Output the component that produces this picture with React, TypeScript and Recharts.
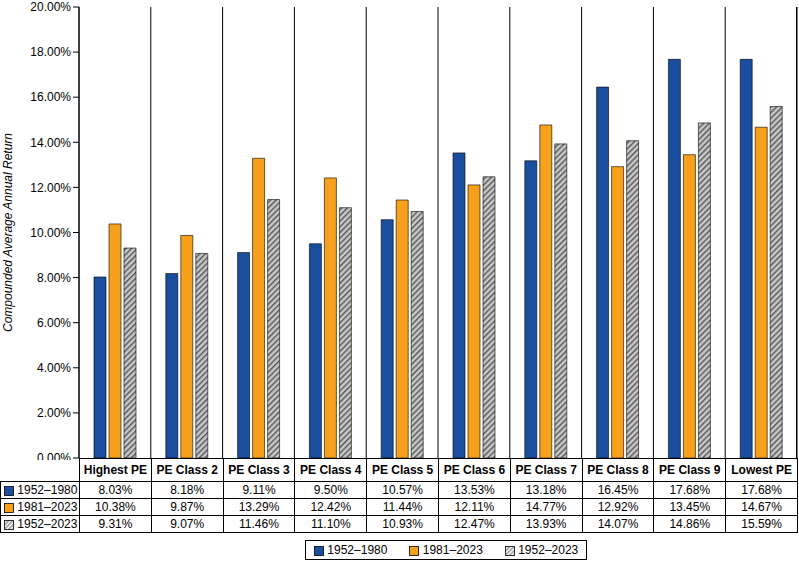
import React from "react";
import { BarChart, Bar, XAxis, YAxis, CartesianGrid } from "recharts";

const categories = ["Highest PE","PE Class 2","PE Class 3","PE Class 4","PE Class 5","PE Class 6","PE Class 7","PE Class 8","PE Class 9","Lowest PE"];
const s1952_1980 = [8.03,8.18,9.11,9.50,10.57,13.53,13.18,16.45,17.68,17.68];
const s1981_2023 = [10.38,9.87,13.29,12.42,11.44,12.11,14.77,12.92,13.45,14.67];
const s1952_2023 = [9.31,9.07,11.46,11.10,10.93,12.47,13.93,14.07,14.86,15.59];
const seriesNames = ["1952–1980","1981–2023","1952–2023"];
const yTicks = [0,2,4,6,8,10,12,14,16,18,20];

const data = categories.map((c,i)=>({name:c,a:s1952_1980[i],b:s1981_2023[i],c:s1952_2023[i]}));
const BLUE="#1B4E9E", ORANGE="#F7A01C";
const FONT="'Liberation Sans', Arial, sans-serif";
const L=79, R=797, W=(R-L)/10;

const Swatch = ({k,id}:{k:number,id:string}) => (
  <svg width={10} height={10} style={{verticalAlign:"middle"}}>
    <defs><pattern id={id} width={3} height={3} patternUnits="userSpaceOnUse" patternTransform="rotate(45)"><rect width={3} height={3} fill="#fff"/><rect width={1.6} height={3} fill="#999"/></pattern></defs>
    <rect x={0.5} y={0.5} width={9} height={9} fill={k===0?BLUE:k===1?ORANGE:`url(#${id})`} stroke="#000" strokeWidth={0.8}/>
  </svg>
);

const rows = [s1952_1980,s1981_2023,s1952_2023];

export default function App(){
  const cell:React.CSSProperties={border:"1px solid #000",padding:0,textAlign:"center",fontSize:12,overflow:"hidden",whiteSpace:"nowrap"};
  return (
    <div style={{position:"absolute",left:0,top:0,width:799,height:570,background:"#fff",fontFamily:FONT}}>
      <BarChart width={799} height={460} data={data} margin={{top:7,right:2,left:0,bottom:2}} barSize={12} barGap={3} barCategoryGap={0}>
        <defs>
          <pattern id="hatch" width={4} height={4} patternUnits="userSpaceOnUse" patternTransform="rotate(45)">
            <rect width={4} height={4} fill="#c8c8c8"/><rect width={1.4} height={4} fill="#555"/>
          </pattern>
        </defs>
        <CartesianGrid horizontal={false} stroke="#000" strokeWidth={1} verticalCoordinatesGenerator={()=>Array.from({length:11},(_,i)=>L+i*W)} />
        <XAxis dataKey="name" hide />
        <YAxis width={79} domain={[0,20]} ticks={yTicks} interval={0} tickFormatter={(v)=>v.toFixed(2)+"%"} tick={{fill:"#000",fontSize:12,fontFamily:FONT}} axisLine={{stroke:"#000"}} tickLine={{stroke:"#000"}}
          label={{value:"Compounded Average Annual Return",angle:-90,position:"insideLeft",offset:8,style:{fontStyle:"italic",fontSize:12,fill:"#000",textAnchor:"middle",fontFamily:FONT}}} />
        <Bar dataKey="a" fill={BLUE} stroke="#000" strokeWidth={0.6} isAnimationActive={false}/>
        <Bar dataKey="b" fill={ORANGE} stroke="#000" strokeWidth={0.6} isAnimationActive={false}/>
        <Bar dataKey="c" fill="url(#hatch)" stroke="#000" strokeWidth={0.6} isAnimationActive={false}/>
      </BarChart>
      <div style={{position:"absolute",left:R-1,top:7,width:1,height:452,background:"#000"}}/>
      <table style={{position:"absolute",left:0,top:458,borderCollapse:"collapse",tableLayout:"fixed",width:R,fontFamily:FONT}}>
        <colgroup>
          <col style={{width:L}}/>
          {categories.map(c=><col key={c} style={{width:W}}/>)}
        </colgroup>
        <tbody>
          <tr style={{height:23}}>
            <td style={{...cell,borderTop:"none",borderLeft:"none"}}></td>
            {categories.map(c=><td key={c} style={{...cell,fontWeight:"bold"}}>{c}</td>)}
          </tr>
          {rows.map((r,k)=>(
            <tr key={k} style={{height:17}}>
              <td style={{...cell,textAlign:"left",paddingLeft:3}}><Swatch k={k} id={"t"+k}/> {seriesNames[k]}</td>
              {r.map((v,i)=><td key={i} style={cell}>{v.toFixed(2)}%</td>)}
            </tr>
          ))}
        </tbody>
      </table>
      <div style={{position:"absolute",left:305,top:540,border:"1px solid #000",padding:"2px 8px",fontSize:12,display:"flex",gap:22}}>
        {seriesNames.map((n,k)=><span key={n}><Swatch k={k} id={"l"+k}/> {n}</span>)}
      </div>
    </div>
  );
}
